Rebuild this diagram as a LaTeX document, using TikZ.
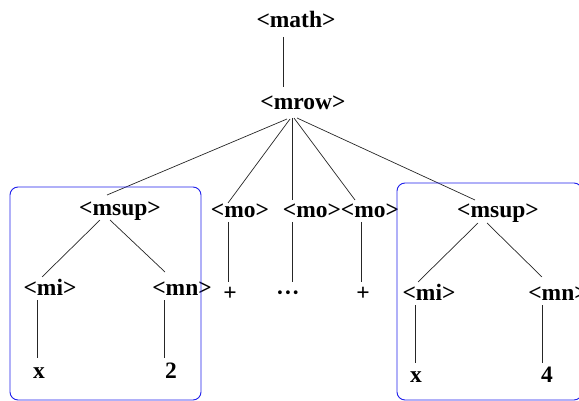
\documentclass[tikz,border=0pt]{standalone}
\usepackage{fontspec}
\setmainfont{Liberation Serif}
\begin{document}
\begin{tikzpicture}[x=1pt,y=-1pt,
  lbl/.style={inner sep=0pt,anchor=base,font=\fontsize{23.5}{28}\selectfont\bfseries},
  edge/.style={line width=0.7pt,black!85},
  grp/.style={draw={rgb,255:red,30;green,30;blue,235},line width=0.9pt,rounded corners=8pt}]
\useasboundingbox (0,0) rectangle (579,401);
\clip (0,0) rectangle (579,401);
% labels
\node[lbl] (math) at (296,28) {<math>};
\node[lbl] (mrow) at (303,110) {<mrow>};
\node[lbl] (msupA) at (120,215) {<msup>};
\node[lbl] (moA) at (240,218) {<mo>};
\node[lbl] (moB) at (312,218) {<mo>};
\node[lbl] (moC) at (370,218) {<mo>};
\node[lbl] (msupB) at (498,218) {<msup>};
\node[lbl] (miA) at (50,295) {<mi>};
\node[lbl] (mnA) at (182,295) {<mn>};
\node[lbl] (miB) at (429,300) {<mi>};
\node[lbl] (mnB) at (558,300) {<mn>};
\node[lbl] (xA) at (39,378) {x};
\node[lbl] (two) at (171,378) {2};
\node[lbl] (plusA) at (230,301) {+};
\node[lbl] (dots) at (288,300) {···};
\node[lbl] (plusB) at (363,301) {+};
\node[lbl] (xB) at (416,382) {x};
\node[lbl] (four) at (547,382) {4};
% connectors
\draw[edge] ([shift={(-13,9)}]math.base) -- ([shift={(-20,-23)}]mrow.base);
\draw[edge] ([shift={(-16,9)}]mrow.base) -- ([shift={(-13,-20)}]msupA.base);
\draw[edge] ([shift={(-13,9)}]mrow.base) -- ([shift={(-12,-15)}]moA.base);
\draw[edge] ([shift={(-11,8)}]mrow.base) -- ([shift={(-20,-18)}]moB.base);
\draw[edge] ([shift={(-9,8)}]mrow.base) -- ([shift={(-15,-18)}]moC.base);
\draw[edge] ([shift={(-6,8)}]mrow.base) -- ([shift={(-23,-18)}]msupB.base);
\draw[edge] ([shift={(-20,5)}]msupA.base) -- ([shift={(-8,-18)}]miA.base);
\draw[edge] ([shift={(-10,5)}]msupA.base) -- ([shift={(-17,-23)}]mnA.base);
\draw[edge] ([shift={(-13,5)}]miA.base) -- ([shift={(-2,-20)}]xA.base);
\draw[edge] ([shift={(-18,5)}]mnA.base) -- ([shift={(-7,-20)}]two.base);
\draw[edge] ([shift={(-12,4)}]moA.base) -- ([shift={(-2,-19)}]plusA.base);
\draw[edge] ([shift={(-20,4)}]moB.base) -- ([shift={(4,-18)}]dots.base);
\draw[edge] ([shift={(-9,4)}]moC.base) -- ([shift={(-2,-19)}]plusB.base);
\draw[edge] ([shift={(-20,5)}]msupB.base) -- ([shift={(-11,-18)}]miB.base);
\draw[edge] ([shift={(-11,5)}]msupB.base) -- ([shift={(-16,-23)}]mnB.base);
\draw[edge] ([shift={(-14,5)}]miB.base) -- ([shift={(-1,-19)}]xB.base);
\draw[edge] ([shift={(-16,5)}]mnB.base) -- ([shift={(-5,-19)}]four.base);
% group boxes
\draw[grp] (10,187) rectangle (201,400);
\draw[grp] (397,183) rectangle (582,400);
\end{tikzpicture}
\end{document}
